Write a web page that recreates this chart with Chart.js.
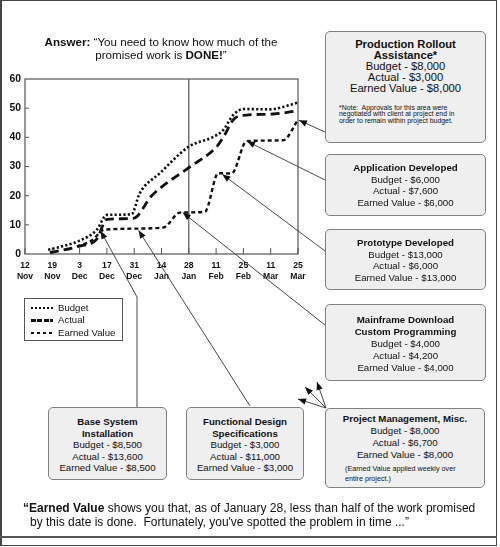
<!DOCTYPE html>
<html>
<head>
<meta charset="utf-8">
<script src="https://cdn.jsdelivr.net/npm/chart.js@4.4.1/dist/chart.umd.min.js"></script>
<style>
body { margin: 0; background: #fff; font-family: "Liberation Sans", Arial, sans-serif; color: #111; }
#page { position: relative; width: 500px; height: 547px; overflow: hidden; }
#chart { position: absolute; left: 0; top: 0; }
#frame { position: absolute; left: 0; top: 0; width: 497px; height: 546px; box-sizing: border-box;
  border: 1px solid #444; border-left-width: 2px; }
#rule { position: absolute; left: 0; top: 536px; width: 497px; height: 2px; background: #555; }
#title { position: absolute; left: 30px; top: 36px; width: 262px; text-align: center; font-size: 11.6px; line-height: 12.5px; }
.box { position: absolute; box-sizing: border-box; border: 1px solid #808080; border-radius: 5px; background: #efefef;
  text-align: center; font-size: 9.7px; line-height: 11.5px; }
.box b { display: block; }
.note { text-align: left; font-size: 6.9px; line-height: 6.4px; }
#legend { position: absolute; left: 24px; top: 298px; width: 99px; height: 43px; box-sizing: border-box;
  border: 1px solid #555; padding: 3px 0 0 6px; font-size: 9.6px; line-height: 12.4px; }
#legend div { white-space: nowrap; }
#legend span { display: inline-block; width: 22px; vertical-align: middle; margin-right: 5px; }
#footer { position: absolute; left: 30px; top: 501px; width: 470px; font-size: 12px; line-height: 14px; text-indent: -7px; }
</style>
</head>
<body>
<div id="page">
  <canvas id="chart" width="500" height="547"></canvas>
  <div id="frame"></div>
  <div id="rule"></div>
  <div id="title"><b>Answer:</b> “You need to know how much of the<br>promised work is <b>DONE!</b>”</div>
  <div id="legend"></div>

  <div class="box" style="left:325px;top:31px;width:161px;height:112px;padding-top:7px;font-size:11.2px;line-height:11px;">
    <b>Production Rollout<br>Assistance*</b>
    Budget - $8,000<br>Actual - $3,000<br>Earned Value - $8,000
    <div class="note" style="margin:11px 0 0 13px;">*Note:&nbsp; Approvals for this area were<br>negotiated with client at project end in<br>order to remain within project budget.</div>
  </div>
  <div class="box" style="left:325px;top:154px;width:161px;height:62px;padding-top:7px;">
    <b>Application Developed</b>
    Budget - $6,000<br>Actual - $7,600<br>Earned Value - $6,000
  </div>
  <div class="box" style="left:325px;top:229px;width:161px;height:61px;padding-top:7px;line-height:11.7px;">
    <b>Prototype Developed</b>
    Budget - $13,000<br>Actual - $6,000<br>Earned Value - $13,000
  </div>
  <div class="box" style="left:325px;top:304px;width:161px;height:77px;padding-top:9px;line-height:12px;">
    <b>Mainframe Download<br>Custom Programming</b>
    Budget - $4,000<br>Actual - $4,200<br>Earned Value - $4,000
  </div>
  <div class="box" style="left:48px;top:407px;width:119px;height:73px;padding-top:8px;">
    <b>Base System<br>Installation</b>
    Budget - $8,500<br>Actual - $13,600<br>Earned Value - $8,500
  </div>
  <div class="box" style="left:186px;top:407px;width:118px;height:73px;padding-top:8px;">
    <b>Functional Design<br>Specifications</b>
    Budget - $3,000<br>Actual - $11,000<br>Earned Value - $3,000
  </div>
  <div class="box" style="left:325px;top:408px;width:160px;height:80px;padding-top:4px;line-height:12px;">
    <b>Project Management, Misc.</b>
    Budget - $8,000<br>Actual - $6,700<br>Earned Value - $8,000
    <div class="note" style="margin:3px 0 0 19px;font-size:7.2px;line-height:10px;">(Earned Value applied weekly over<br>entire project.)</div>
  </div>

  <div id="footer"><b>“Earned Value</b> shows you that, as of January 28, less than half of the work promised<br>by this date is done.&nbsp; Fortunately, you've spotted the problem in time ...”</div>
</div>

<script>
// x positions are in tick-label units (0 = 12 Nov, 10 = 25 Mar), values in $1,000
const tickLabels = ['12 Nov', '19 Nov', '3 Dec', '17 Dec', '31 Dec', '14 Jan', '28 Jan', '11 Feb', '25 Feb', '11 Mar', '25 Mar'];
const cutoffLabel = '28 Jan';

const budgetWeeks  = [0.85, 2.0, 2.62, 3.0, 3.9, 4.2, 4.94, 6.0, 6.9, 7.26, 7.63, 8.0, 8.96, 10];
const budgetValues = [1.4, 4.6, 8.2, 13.4, 13.6, 20.8, 27.7, 36.8, 40.2, 42.5, 47.7, 49.7, 49.6, 51.9];

const actualWeeks  = [0.91, 2.0, 2.62, 3.0, 3.97, 4.64, 6.0, 7.0, 7.26, 7.68, 8.1, 9.1, 10];
const actualValues = [0.5, 2.7, 5.0, 11.9, 12.2, 20.0, 29.6, 36.6, 40.0, 46.5, 47.6, 48.0, 49.1];

const earnedWeeks  = [1.9, 2.5, 2.85, 3.0, 4.0, 5.07, 5.68, 6.59, 7.08, 7.57, 8.12, 9.46, 10];
const earnedValues = [2.5, 5.0, 8.2, 8.4, 8.7, 9.1, 14.2, 14.5, 27.7, 27.6, 38.7, 39.0, 46.0];

// callout arrows: tail on a box (page px), tip on the earned value line (data units)
const callouts = [
  { from: [325, 132], to: [10, 46] },
  { from: [325, 180], to: [8.1, 38.8] },
  { from: [325, 251], to: [7.2, 27.5] },
  { from: [325, 325], to: [5.75, 14.4] },
  { from: [137, 407], via: [137, 297], to: [2.75, 8.2] },
  { from: [250, 406], to: [4.14, 8.4] }
];
// the little fan of arrows on the project management box
const fanArrows = [
  { from: [326, 408], to: [298, 399] },
  { from: [326, 408], to: [305, 387] },
  { from: [326, 408], to: [317, 382] }
];

function toPoints(xs, ys) {
  return xs.map((x, i) => ({ x: x, y: ys[i] }));
}

function arrow(ctx, x0, y0, x1, y1, back) {
  let a = Math.atan2(y1 - y0, x1 - x0);
  x1 -= Math.cos(a) * back;
  y1 -= Math.sin(a) * back;
  ctx.beginPath();
  ctx.moveTo(x0, y0);
  ctx.lineTo(x1, y1);
  ctx.stroke();
  let len = 8, w = 3.2;
  ctx.beginPath();
  ctx.moveTo(x1, y1);
  ctx.lineTo(x1 - Math.cos(a) * len + Math.sin(a) * w, y1 - Math.sin(a) * len - Math.cos(a) * w);
  ctx.lineTo(x1 - Math.cos(a) * len - Math.sin(a) * w, y1 - Math.sin(a) * len + Math.cos(a) * w);
  ctx.closePath();
  ctx.fill();
}

const framePlugin = {
  id: 'frame',
  beforeDatasetsDraw(chart) {
    let ctx = chart.ctx, a = chart.chartArea;
    let xs = chart.scales.x, ys = chart.scales.y;
    ctx.save();
    ctx.strokeStyle = '#555';
    ctx.lineWidth = 1.2;
    ctx.strokeRect(a.left, a.top, a.right - a.left, a.bottom - a.top);
    // 28 Jan marker
    let cx = xs.getPixelForValue(tickLabels.indexOf(cutoffLabel));
    ctx.beginPath();
    ctx.moveTo(cx, a.top);
    ctx.lineTo(cx, a.bottom);
    ctx.stroke();
    // small ticks inside the plot
    ctx.lineWidth = 1;
    tickLabels.forEach(function(t, i) {
      let px = xs.getPixelForValue(i);
      ctx.beginPath();
      ctx.moveTo(px, a.bottom);
      ctx.lineTo(px, a.bottom - 6);
      ctx.stroke();
    });
    for (let v = 10; v < 60; v += 10) {
      let py = ys.getPixelForValue(v);
      ctx.beginPath();
      ctx.moveTo(a.left, py);
      ctx.lineTo(a.left + 4, py);
      ctx.stroke();
    }
    ctx.restore();
  },
  afterDraw(chart) {
    let ctx = chart.ctx;
    let xs = chart.scales.x, ys = chart.scales.y;
    ctx.save();
    ctx.strokeStyle = '#333';
    ctx.fillStyle = '#111';
    ctx.lineWidth = 0.9;
    callouts.forEach(function(c) {
      let tx = xs.getPixelForValue(c.to[0]);
      let ty = ys.getPixelForValue(c.to[1]);
      let start = c.from;
      if (c.via) {
        ctx.beginPath();
        ctx.moveTo(c.from[0], c.from[1]);
        ctx.lineTo(c.via[0], c.via[1]);
        ctx.stroke();
        start = c.via;
      }
      arrow(ctx, start[0], start[1], tx, ty, 1);
    });
    fanArrows.forEach(function(f) {
      arrow(ctx, f.from[0], f.from[1], f.to[0], f.to[1], 0);
    });
    ctx.restore();
  }
};

let ctx1 = document.getElementById('chart').getContext('2d');
let myChart = new Chart(ctx1, {
  type: 'line',
  data: {
    datasets: [{
      label: 'Budget',
      data: toPoints(budgetWeeks, budgetValues),
      borderColor: '#111',
      borderWidth: 2.6,
      borderDash: [2.2, 2.2],
      borderCapStyle: 'butt'
    }, {
      label: 'Actual',
      data: toPoints(actualWeeks, actualValues),
      borderColor: '#111',
      borderWidth: 2.8,
      borderDash: [9, 5]
    }, {
      label: 'Earned Value',
      data: toPoints(earnedWeeks, earnedValues),
      borderColor: '#111',
      borderWidth: 2.4,
      borderDash: [4, 3]
    }]
  },
  options: {
    responsive: false,
    animation: false,
    cubicInterpolationMode: 'monotone',
    pointRadius: 0,
    layout: { padding: { left: 0, top: 79, right: 202, bottom: 253 } },
    plugins: { legend: { display: false }, tooltip: { enabled: false } },
    scales: {
      x: {
        type: 'linear',
        min: 0,
        max: tickLabels.length - 1,
        afterBuildTicks: function(s) { s.ticks = tickLabels.map((t, i) => ({ value: i })); },
        afterFit: function(s) { s.height = 40; },
        ticks: {
          autoSkip: false,
          maxRotation: 0,
          padding: 6,
          color: '#111',
          font: { family: '"Liberation Sans", Arial, sans-serif', size: 8.6, weight: 'bold', lineHeight: 1.3 },
          callback: function(v) { return tickLabels[v] ? tickLabels[v].split(' ') : ''; }
        },
        grid: { display: false, drawTicks: false },
        border: { display: false }
      },
      y: {
        min: 0,
        max: 60,
        afterFit: function(s) { s.width = 25; },
        ticks: {
          stepSize: 10,
          padding: 4,
          color: '#111',
          font: { family: '"Liberation Sans", Arial, sans-serif', size: 10.4, weight: 'bold' }
        },
        grid: { display: false, drawTicks: false },
        border: { display: false }
      }
    }
  },
  plugins: [framePlugin]
});

// legend with the same dash patterns as the lines
let legendEl = document.getElementById('legend');
let swatches = [
  'repeating-linear-gradient(90deg,#111 0 2px,transparent 2px 4px)',
  'repeating-linear-gradient(90deg,#111 0 5px,transparent 5px 6.5px)',
  'repeating-linear-gradient(90deg,#111 0 3px,transparent 3px 6px)'
];
let swatchHeights = [2, 3, 2];
myChart.data.datasets.forEach(function(ds, i) {
  let row = document.createElement('div');
  let s = document.createElement('span');
  s.style.height = swatchHeights[i] + 'px';
  s.style.background = swatches[i];
  row.appendChild(s);
  row.appendChild(document.createTextNode(ds.label));
  legendEl.appendChild(row);
});
</script>
</body>
</html>
